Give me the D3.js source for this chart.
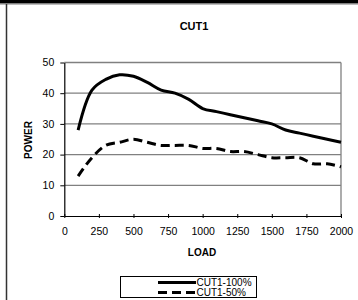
<!DOCTYPE html>
<html><head><meta charset="utf-8">
<script src="https://cdn.jsdelivr.net/npm/d3@7"></script>
<style>body{margin:0;background:#fff}svg{display:block;font-family:"Liberation Sans",Arial,sans-serif}</style>
</head><body><svg id="c" width="358" height="300"></svg>
<script>
const loads = [100,200,300,400,500,600,700,800,900,1000,1100,1200,1300,1400,1500,1600,1700,1800,1900,2000];
const cut100 = [28,41,44.5,46,45.5,43.5,41,40,38,35,34,33,32,31,30,28,27,26,25,24];
const cut50 = [13,19,23,24,25,24,23,23,23,22,22,21,21,20,19,19,19,17,17,16];
const xTicks = [0,250,500,750,1000,1250,1500,1750,2000];
const yTicks = [0,10,20,30,40,50];
const seriesNames = ["CUT1-100%","CUT1-50%"];

const svg = d3.select("#c");
// outer border
svg.append("rect").attr("x",0).attr("y",0).attr("width",358).attr("height",3.5).attr("fill","#000");
svg.append("line").attr("x1",0).attr("x2",358).attr("y1",4.5).attr("y2",4.5).attr("stroke","#bbb").attr("stroke-width",1);
svg.append("line").attr("x1",6.5).attr("x2",6.5).attr("y1",4).attr("y2",300).attr("stroke","#333").attr("stroke-width",1.5);

const x = d3.scaleLinear().domain([0,2000]).range([64.3,341]);
const y = d3.scaleLinear().domain([0,50]).range([216,62.5]);

// gridlines
svg.append("g").selectAll("line").data(yTicks.filter(d=>d>0)).join("line")
  .attr("x1",x(0)).attr("x2",x(2000)).attr("y1",d=>y(d)).attr("y2",d=>y(d))
  .attr("stroke","#808080").attr("stroke-width",1.3);
svg.append("line").attr("x1",x(2000)).attr("x2",x(2000)).attr("y1",y(50)).attr("y2",y(0))
  .attr("stroke","#808080").attr("stroke-width",1.3);

const xa = svg.append("g").attr("transform",`translate(0,${y(0)})`)
  .call(d3.axisBottom(x).tickValues(xTicks).tickFormat(d3.format("d")).tickSize(4).tickSizeOuter(0).tickPadding(8));
const ya = svg.append("g").attr("transform",`translate(${x(0)},0)`)
  .call(d3.axisLeft(y).tickValues(yTicks).tickFormat(d3.format("d")).tickSize(4).tickSizeOuter(0).tickPadding(6));
[xa,ya].forEach(a=>{
  a.select(".domain").attr("stroke","#000").attr("stroke-width",1.2);
  a.selectAll(".tick line").attr("stroke","#000");
  a.selectAll("text").attr("font-size",10.5).attr("fill","#000").attr("font-family","Liberation Sans, Arial, sans-serif");
});
xa.selectAll(".tick line").attr("y1",-2).attr("y2",2);

const line = d3.line().x((d,i)=>x(loads[i])).y(d=>y(d)).curve(d3.curveCatmullRom.alpha(0.5));
svg.append("path").attr("d",line(cut100)).attr("fill","none").attr("stroke","#000").attr("stroke-width",3);
svg.append("path").attr("d",line(cut50)).attr("fill","none").attr("stroke","#000").attr("stroke-width",3).attr("stroke-dasharray","9,5");

svg.append("text").attr("x",194).attr("y",30).attr("text-anchor","middle").attr("font-size",11).attr("font-weight","bold").text("CUT1");
svg.append("text").attr("x",202).attr("y",256).attr("text-anchor","middle").attr("font-size",10).attr("font-weight","bold").text("LOAD");
svg.append("text").attr("transform","translate(32,140) rotate(-90)").attr("text-anchor","middle").attr("font-size",10).attr("font-weight","bold").text("POWER");

// legend
svg.append("rect").attr("x",120.5).attr("y",276.5).attr("width",136).attr("height",21).attr("fill","#fff").attr("stroke","#000").attr("stroke-width",1);
const ly = [282.5,292.5];
seriesNames.forEach((n,i)=>{
  svg.append("line").attr("x1",158).attr("x2",196).attr("y1",ly[i]).attr("y2",ly[i]).attr("stroke","#000").attr("stroke-width",3)
    .attr("stroke-dasharray",i===1?"9,5":null);
  svg.append("text").attr("x",196.5).attr("y",ly[i]+3.5).attr("font-size",10).text(n);
});
</script></body></html>
